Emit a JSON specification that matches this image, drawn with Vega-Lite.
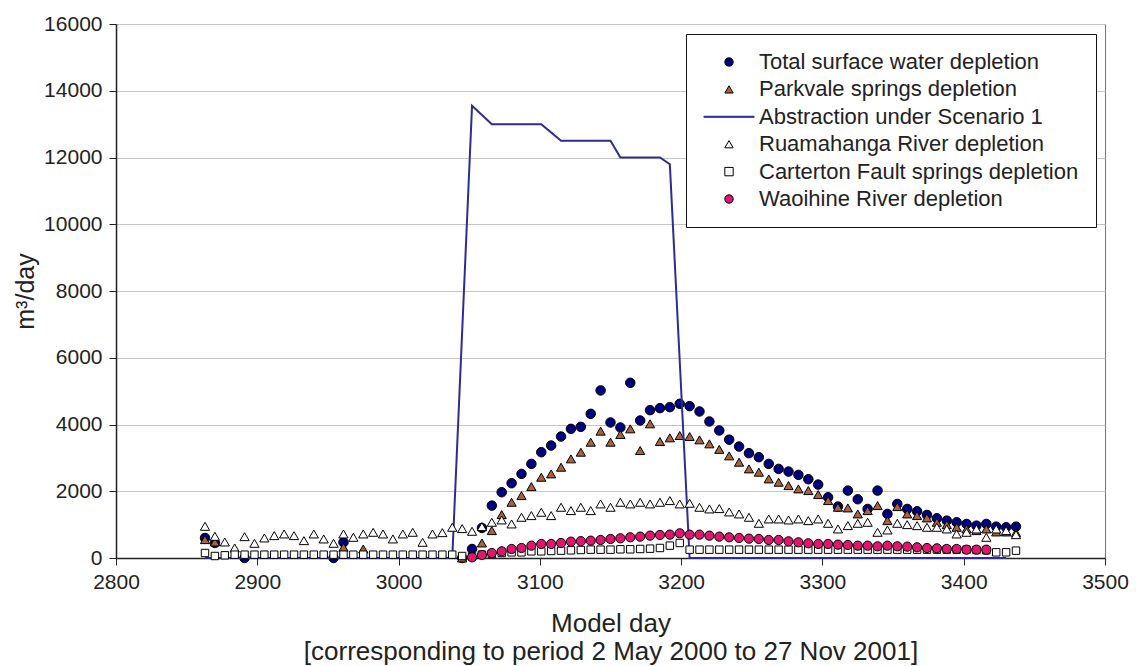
{
  "$schema": "https://vega.github.io/schema/vega-lite/v6.json",
  "width": 989,
  "height": 534,
  "autosize": {"type": "none"},
  "padding": {"left": 116, "top": 24, "right": 31, "bottom": 108},
  "background": "white",
  "config": {
    "font": "Liberation Sans",
    "view": {"stroke": "#777", "strokeWidth": 1},
    "axis": {"labelFont": "Liberation Sans", "titleFont": "Liberation Sans", "labelColor": "#222", "titleColor": "#222", "titleFontWeight": "normal", "domainColor": "#222", "tickColor": "#222"},
    "legend": {"title": null, "orient": "none", "legendX": 570, "legendY": 10, "direction": "vertical", "padding": 17, "strokeColor": "#111", "fillColor": "#fff", "labelFontSize": 22, "labelFont": "Liberation Sans", "labelColor": "#222", "symbolSize": 70, "symbolStrokeWidth": 1, "symbolOffset": 15, "labelOffset": 19, "rowPadding": 5.4, "labelLimit": 400}
  },
  "datasets": {
    "pts": [
      {"day": 2863, "total": 600, "parkvale": 550, "ruamahanga": 950, "carterton": 150, "waoihine": null},
      {"day": 2870, "total": 450, "parkvale": 480, "ruamahanga": 650, "carterton": 60, "waoihine": null},
      {"day": 2877, "total": null, "parkvale": null, "ruamahanga": 480, "carterton": 80, "waoihine": null},
      {"day": 2884, "total": null, "parkvale": null, "ruamahanga": 300, "carterton": 100, "waoihine": null},
      {"day": 2891, "total": 0, "parkvale": null, "ruamahanga": 640, "carterton": 100, "waoihine": null},
      {"day": 2898, "total": null, "parkvale": null, "ruamahanga": 440, "carterton": 100, "waoihine": null},
      {"day": 2905, "total": null, "parkvale": null, "ruamahanga": 600, "carterton": 100, "waoihine": null},
      {"day": 2912, "total": null, "parkvale": null, "ruamahanga": 670, "carterton": 100, "waoihine": null},
      {"day": 2919, "total": null, "parkvale": null, "ruamahanga": 720, "carterton": 100, "waoihine": null},
      {"day": 2926, "total": null, "parkvale": null, "ruamahanga": 670, "carterton": 100, "waoihine": null},
      {"day": 2933, "total": null, "parkvale": null, "ruamahanga": 520, "carterton": 100, "waoihine": null},
      {"day": 2940, "total": null, "parkvale": null, "ruamahanga": 720, "carterton": 100, "waoihine": null},
      {"day": 2947, "total": null, "parkvale": null, "ruamahanga": 570, "carterton": 100, "waoihine": null},
      {"day": 2954, "total": 0, "parkvale": null, "ruamahanga": 440, "carterton": 100, "waoihine": null},
      {"day": 2961, "total": 470, "parkvale": 320, "ruamahanga": 720, "carterton": 100, "waoihine": null},
      {"day": 2968, "total": null, "parkvale": null, "ruamahanga": 620, "carterton": 100, "waoihine": null},
      {"day": 2975, "total": null, "parkvale": 270, "ruamahanga": 720, "carterton": 100, "waoihine": null},
      {"day": 2982, "total": null, "parkvale": null, "ruamahanga": 770, "carterton": 100, "waoihine": null},
      {"day": 2989, "total": null, "parkvale": null, "ruamahanga": 720, "carterton": 100, "waoihine": null},
      {"day": 2996, "total": null, "parkvale": null, "ruamahanga": 570, "carterton": 100, "waoihine": null},
      {"day": 3003, "total": null, "parkvale": null, "ruamahanga": 720, "carterton": 100, "waoihine": null},
      {"day": 3010, "total": null, "parkvale": null, "ruamahanga": 770, "carterton": 100, "waoihine": null},
      {"day": 3017, "total": null, "parkvale": null, "ruamahanga": 470, "carterton": 100, "waoihine": null},
      {"day": 3024, "total": null, "parkvale": null, "ruamahanga": 720, "carterton": 100, "waoihine": null},
      {"day": 3031, "total": null, "parkvale": null, "ruamahanga": 760, "carterton": 100, "waoihine": null},
      {"day": 3038, "total": null, "parkvale": null, "ruamahanga": 920, "carterton": 100, "waoihine": null},
      {"day": 3045, "total": 0, "parkvale": 0, "ruamahanga": 880, "carterton": 60, "waoihine": null},
      {"day": 3052, "total": 270, "parkvale": null, "ruamahanga": 800, "carterton": 50, "waoihine": 20},
      {"day": 3059, "total": 900, "parkvale": 450, "ruamahanga": 940, "carterton": 100, "waoihine": 90},
      {"day": 3066, "total": 1570, "parkvale": 820, "ruamahanga": 1070, "carterton": 120, "waoihine": 150},
      {"day": 3073, "total": 1970, "parkvale": 1300, "ruamahanga": 1140, "carterton": 150, "waoihine": 200},
      {"day": 3080, "total": 2240, "parkvale": 1670, "ruamahanga": 1020, "carterton": 170, "waoihine": 270},
      {"day": 3087, "total": 2520, "parkvale": 1870, "ruamahanga": 1220, "carterton": 170, "waoihine": 300},
      {"day": 3094, "total": 2820, "parkvale": 2140, "ruamahanga": 1270, "carterton": 200, "waoihine": 370},
      {"day": 3101, "total": 3170, "parkvale": 2420, "ruamahanga": 1370, "carterton": 200, "waoihine": 420},
      {"day": 3108, "total": 3370, "parkvale": 2520, "ruamahanga": 1270, "carterton": 210, "waoihine": 420},
      {"day": 3115, "total": 3640, "parkvale": 2720, "ruamahanga": 1520, "carterton": 220, "waoihine": 450},
      {"day": 3122, "total": 3870, "parkvale": 2970, "ruamahanga": 1420, "carterton": 230, "waoihine": 490},
      {"day": 3129, "total": 3930, "parkvale": 3170, "ruamahanga": 1520, "carterton": 240, "waoihine": 505},
      {"day": 3136, "total": 4320, "parkvale": 3470, "ruamahanga": 1420, "carterton": 250, "waoihine": 520},
      {"day": 3143, "total": 5020, "parkvale": 3800, "ruamahanga": 1620, "carterton": 250, "waoihine": 540},
      {"day": 3150, "total": 4060, "parkvale": 3470, "ruamahanga": 1520, "carterton": 250, "waoihine": 570},
      {"day": 3157, "total": 3910, "parkvale": 3700, "ruamahanga": 1670, "carterton": 260, "waoihine": 590},
      {"day": 3164, "total": 5250, "parkvale": 3870, "ruamahanga": 1620, "carterton": 260, "waoihine": 620},
      {"day": 3171, "total": 4120, "parkvale": 3220, "ruamahanga": 1670, "carterton": 270, "waoihine": 640},
      {"day": 3178, "total": 4430, "parkvale": 4020, "ruamahanga": 1620, "carterton": 280, "waoihine": 670},
      {"day": 3185, "total": 4490, "parkvale": 3490, "ruamahanga": 1670, "carterton": 300, "waoihine": 690},
      {"day": 3192, "total": 4520, "parkvale": 3600, "ruamahanga": 1720, "carterton": 370, "waoihine": 700},
      {"day": 3199, "total": 4620, "parkvale": 3670, "ruamahanga": 1620, "carterton": 450, "waoihine": 740},
      {"day": 3206, "total": 4550, "parkvale": 3640, "ruamahanga": 1640, "carterton": 250, "waoihine": 700},
      {"day": 3213, "total": 4390, "parkvale": 3540, "ruamahanga": 1520, "carterton": 250, "waoihine": 700},
      {"day": 3220, "total": 4090, "parkvale": 3420, "ruamahanga": 1470, "carterton": 250, "waoihine": 670},
      {"day": 3227, "total": 3820, "parkvale": 3255, "ruamahanga": 1480, "carterton": 250, "waoihine": 640},
      {"day": 3234, "total": 3545, "parkvale": 3060, "ruamahanga": 1380, "carterton": 250, "waoihine": 620},
      {"day": 3241, "total": 3340, "parkvale": 2870, "ruamahanga": 1320, "carterton": 250, "waoihine": 600},
      {"day": 3248, "total": 3140, "parkvale": 2670, "ruamahanga": 1220, "carterton": 250, "waoihine": 580},
      {"day": 3255, "total": 3020, "parkvale": 2570, "ruamahanga": 1040, "carterton": 250, "waoihine": 570},
      {"day": 3262, "total": 2820, "parkvale": 2370, "ruamahanga": 1170, "carterton": 250, "waoihine": 540},
      {"day": 3269, "total": 2670, "parkvale": 2270, "ruamahanga": 1170, "carterton": 250, "waoihine": 540},
      {"day": 3276, "total": 2590, "parkvale": 2170, "ruamahanga": 1140, "carterton": 250, "waoihine": 500},
      {"day": 3283, "total": 2490, "parkvale": 2070, "ruamahanga": 1170, "carterton": 250, "waoihine": 470},
      {"day": 3290, "total": 2360, "parkvale": 2020, "ruamahanga": 1120, "carterton": 250, "waoihine": 440},
      {"day": 3297, "total": 2200, "parkvale": 1900, "ruamahanga": 1170, "carterton": 250, "waoihine": 420},
      {"day": 3304, "total": 1820, "parkvale": 1720, "ruamahanga": 1040, "carterton": 250, "waoihine": 420},
      {"day": 3311, "total": 1540, "parkvale": 1520, "ruamahanga": 870, "carterton": 250, "waoihine": 400},
      {"day": 3318, "total": 2020, "parkvale": 1500, "ruamahanga": 970, "carterton": 250, "waoihine": 390},
      {"day": 3325, "total": 1760, "parkvale": 1320, "ruamahanga": 1040, "carterton": 250, "waoihine": 370},
      {"day": 3332, "total": 1470, "parkvale": 1420, "ruamahanga": 1070, "carterton": 250, "waoihine": 370},
      {"day": 3339, "total": 2020, "parkvale": 1570, "ruamahanga": 770, "carterton": 250, "waoihine": 350},
      {"day": 3346, "total": 1320, "parkvale": 1120, "ruamahanga": 840, "carterton": 250, "waoihine": 370},
      {"day": 3353, "total": 1620, "parkvale": 1540, "ruamahanga": 1040, "carterton": 250, "waoihine": 350},
      {"day": 3360, "total": 1470, "parkvale": 1320, "ruamahanga": 1000, "carterton": 250, "waoihine": 340},
      {"day": 3367, "total": 1400, "parkvale": 1270, "ruamahanga": 970, "carterton": 250, "waoihine": 320},
      {"day": 3374, "total": 1290, "parkvale": 1200, "ruamahanga": 920, "carterton": 250, "waoihine": 300},
      {"day": 3381, "total": 1190, "parkvale": 1070, "ruamahanga": 920, "carterton": 250, "waoihine": 290},
      {"day": 3388, "total": 1120, "parkvale": 1000, "ruamahanga": 870, "carterton": 250, "waoihine": 270},
      {"day": 3395, "total": 1070, "parkvale": 920, "ruamahanga": 720, "carterton": 250, "waoihine": 270},
      {"day": 3402, "total": 1020, "parkvale": 870, "ruamahanga": 770, "carterton": 250, "waoihine": 250},
      {"day": 3409, "total": 970, "parkvale": 820, "ruamahanga": 870, "carterton": 240, "waoihine": 250},
      {"day": 3416, "total": 1020, "parkvale": 870, "ruamahanga": 620, "carterton": 230, "waoihine": 250},
      {"day": 3423, "total": 940, "parkvale": 780, "ruamahanga": 870, "carterton": 170, "waoihine": null},
      {"day": 3430, "total": 920, "parkvale": 780, "ruamahanga": 820, "carterton": 170, "waoihine": null},
      {"day": 3437, "total": 940, "parkvale": 760, "ruamahanga": 700, "carterton": 220, "waoihine": null}
    ],
    "abs": [
      {"day": 2863, "abstraction": 0},
      {"day": 3038, "abstraction": 0},
      {"day": 3052, "abstraction": 13550},
      {"day": 3066, "abstraction": 13000},
      {"day": 3101, "abstraction": 13000},
      {"day": 3115, "abstraction": 12500},
      {"day": 3150, "abstraction": 12500},
      {"day": 3157, "abstraction": 12000},
      {"day": 3185, "abstraction": 12000},
      {"day": 3192, "abstraction": 11800},
      {"day": 3206, "abstraction": 0},
      {"day": 3430, "abstraction": 0}
    ]
  },
  "layer": [
    {
      "data": {"name": "pts"},
      "transform": [
        {"fold": ["total"], "as": ["series", "value"]},
        {"filter": "datum.value != null"}
      ],
      "mark": {"type": "point", "filled": true, "size": 90, "strokeWidth": 1, "opacity": 1},
      "encoding": {
        "x": {"field": "day", "type": "quantitative",
          "scale": {"domain": [2800, 3500], "nice": false, "zero": false},
          "axis": {"values": [2800, 2900, 3000, 3100, 3200, 3300, 3400, 3500], "format": "d", "grid": false, "labelFontSize": 21, "labelFlush": false, "labelPadding": 6, "tickSize": 7, "title": ["Model day", "[corresponding to period 2 May 2000 to 27 Nov 2001]"], "titleFontSize": 26, "titleLineHeight": 28, "titlePadding": 18, "domainWidth": 1.5}},
        "y": {"field": "value", "type": "quantitative",
          "scale": {"domain": [0, 16000], "nice": false},
          "axis": {"values": [0, 2000, 4000, 6000, 8000, 10000, 12000, 14000, 16000], "format": "d", "grid": true, "gridColor": "#c4c4c4", "labelFontSize": 21, "labelPadding": 7, "tickSize": 7, "title": "m³/day", "titleFontSize": 25, "titlePadding": 5, "domainWidth": 1.5}},
        "color": {"field": "series", "type": "nominal",
          "scale": {"domain": ["total", "parkvale", "abstraction", "ruamahanga", "carterton", "waoihine"], "range": ["#00007F", "#A8623E", "#2C2C96", "#FFFFFF", "#FFFFFF", "#E0176E"]},
          "legend": {"labelExpr": "{'total': 'Total surface water depletion', 'parkvale': 'Parkvale springs depletion', 'abstraction': 'Abstraction under Scenario 1', 'ruamahanga': 'Ruamahanga River depletion', 'carterton': 'Carterton Fault springs depletion', 'waoihine': 'Waoihine River depletion'}[datum.label]"}},
        "shape": {"field": "series", "type": "nominal",
          "scale": {"domain": ["total", "parkvale", "abstraction", "ruamahanga", "carterton", "waoihine"], "range": ["circle", "triangle-up", "M-6,-0.13H6V0.13H-6Z", "triangle-up", "square", "circle"]},
          "legend": {"labelExpr": "{'total': 'Total surface water depletion', 'parkvale': 'Parkvale springs depletion', 'abstraction': 'Abstraction under Scenario 1', 'ruamahanga': 'Ruamahanga River depletion', 'carterton': 'Carterton Fault springs depletion', 'waoihine': 'Waoihine River depletion'}[datum.label]"}},
        "stroke": {"field": "series", "type": "nominal",
          "scale": {"domain": ["total", "parkvale", "abstraction", "ruamahanga", "carterton", "waoihine"], "range": ["#000000", "#000000", "#2C2C96", "#000000", "#000000", "#000000"]},
          "legend": {"labelExpr": "{'total': 'Total surface water depletion', 'parkvale': 'Parkvale springs depletion', 'abstraction': 'Abstraction under Scenario 1', 'ruamahanga': 'Ruamahanga River depletion', 'carterton': 'Carterton Fault springs depletion', 'waoihine': 'Waoihine River depletion'}[datum.label]"}}
      }
    },
    {
      "data": {"name": "pts"},
      "transform": [
        {"fold": ["parkvale"], "as": ["series", "value"]},
        {"filter": "datum.value != null"}
      ],
      "mark": {"type": "point", "filled": true, "size": 85, "strokeWidth": 1, "opacity": 1},
      "encoding": {
        "x": {"field": "day", "type": "quantitative"},
        "y": {"field": "value", "type": "quantitative"},
        "color": {"field": "series", "type": "nominal"},
        "shape": {"field": "series", "type": "nominal"},
        "stroke": {"field": "series", "type": "nominal"}
      }
    },
    {
      "data": {"name": "abs"},
      "mark": {"type": "line", "color": "#2C2C96", "strokeWidth": 2},
      "encoding": {
        "x": {"field": "day", "type": "quantitative"},
        "y": {"field": "abstraction", "type": "quantitative"}
      }
    },
    {
      "data": {"name": "pts"},
      "transform": [
        {"fold": ["ruamahanga"], "as": ["series", "value"]},
        {"filter": "datum.value != null"}
      ],
      "mark": {"type": "point", "filled": true, "size": 85, "strokeWidth": 1, "opacity": 1},
      "encoding": {
        "x": {"field": "day", "type": "quantitative"},
        "y": {"field": "value", "type": "quantitative"},
        "color": {"field": "series", "type": "nominal"},
        "shape": {"field": "series", "type": "nominal"},
        "stroke": {"field": "series", "type": "nominal"}
      }
    },
    {
      "data": {"name": "pts"},
      "transform": [
        {"fold": ["carterton"], "as": ["series", "value"]},
        {"filter": "datum.value != null"}
      ],
      "mark": {"type": "point", "filled": true, "size": 55, "strokeWidth": 1, "opacity": 1},
      "encoding": {
        "x": {"field": "day", "type": "quantitative"},
        "y": {"field": "value", "type": "quantitative"},
        "color": {"field": "series", "type": "nominal"},
        "shape": {"field": "series", "type": "nominal"},
        "stroke": {"field": "series", "type": "nominal"}
      }
    },
    {
      "data": {"name": "pts"},
      "transform": [
        {"fold": ["waoihine"], "as": ["series", "value"]},
        {"filter": "datum.value != null"}
      ],
      "mark": {"type": "point", "filled": true, "size": 85, "strokeWidth": 1, "opacity": 1},
      "encoding": {
        "x": {"field": "day", "type": "quantitative"},
        "y": {"field": "value", "type": "quantitative"},
        "color": {"field": "series", "type": "nominal"},
        "shape": {"field": "series", "type": "nominal"},
        "stroke": {"field": "series", "type": "nominal"}
      }
    }
  ]
}
